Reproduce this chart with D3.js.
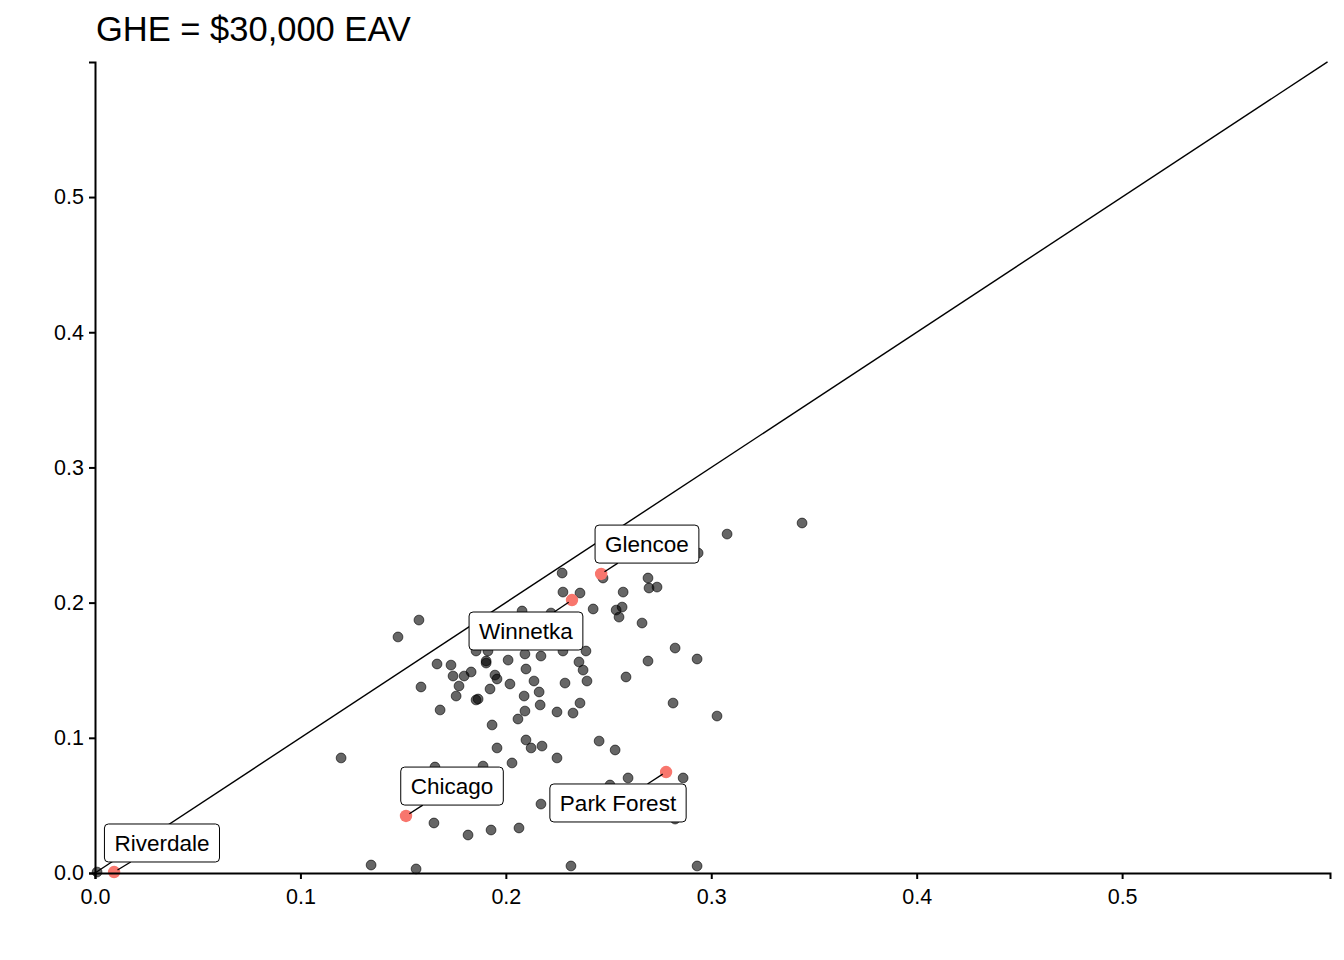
<!DOCTYPE html>
<html>
<head>
<meta charset="utf-8">
<script src="https://cdn.jsdelivr.net/npm/d3@7"></script>
<style>
  body { margin: 0; background: #fff; }
  text { font-family: "Liberation Sans", Arial, sans-serif; }
</style>
</head>
<body>
<div id="chart"></div>
<script>
// grey points (x, y)
const ptX = [0.3442, 0.3077, 0.2936, 0.2274, 0.2473, 0.2692, 0.2697, 0.2736, 0.2571, 0.2278,
  0.2361, 0.2425, 0.2537, 0.2566, 0.2551, 0.2663, 0.2079, 0.2220, 0.1577, 0.1475,
  0.2824, 0.2931, 0.2692, 0.2390, 0.2278, 0.2171, 0.2093, 0.2011, 0.1913, 0.1855,
  0.1904, 0.1904, 0.1665, 0.1733, 0.2356, 0.2376, 0.2098, 0.2395, 0.2288, 0.2585,
  0.1743, 0.1797, 0.1831, 0.1947, 0.1957, 0.2020, 0.2137, 0.2162, 0.2089, 0.1772,
  0.1587, 0.1923, 0.1758, 0.1855, 0.1865, 0.2167, 0.2361, 0.2814, 0.1680, 0.2093,
  0.2249, 0.2327, 0.3028, 0.2059, 0.1933, 0.2454, 0.2098, 0.2176, 0.2123, 0.1957,
  0.2532, 0.1198, 0.2249, 0.2030, 0.1655, 0.1889, 0.2595, 0.2863, 0.2507, 0.2171,
  0.2824, 0.1650, 0.1816, 0.1928, 0.2064, 0.1344, 0.1563, 0.2317, 0.2931, 0.0010];
const ptY = [0.2589, 0.2507, 0.2367, 0.2219, 0.2182, 0.2182, 0.2108, 0.2115, 0.2078, 0.2078,
  0.2071, 0.1953, 0.1945, 0.1967, 0.1893, 0.1849, 0.1938, 0.1923, 0.1871, 0.1746,
  0.1664, 0.1583, 0.1568, 0.1642, 0.1642, 0.1605, 0.1620, 0.1575, 0.1642, 0.1642,
  0.1568, 0.1553, 0.1546, 0.1538, 0.1561, 0.1501, 0.1509, 0.1420, 0.1405, 0.1450,
  0.1457, 0.1457, 0.1487, 0.1464, 0.1435, 0.1398, 0.1420, 0.1339, 0.1309, 0.1383,
  0.1376, 0.1361, 0.1309, 0.1280, 0.1287, 0.1243, 0.1257, 0.1257, 0.1206, 0.1198,
  0.1191, 0.1183, 0.1161, 0.1139, 0.1095, 0.0976, 0.0984, 0.0939, 0.0925, 0.0925,
  0.0910, 0.0851, 0.0851, 0.0814, 0.0784, 0.0791, 0.0703, 0.0703, 0.0651, 0.0510,
  0.0399, 0.0370, 0.0281, 0.0318, 0.0333, 0.0059, 0.0030, 0.0052, 0.0052, 0.0007];

// highlighted places
const hiNames = ["Glencoe", "Winnetka", "Park Forest", "Chicago", "Riverdale"];
const hiX = [0.2464, 0.2322, 0.2780, 0.1514, 0.0093];
const hiY = [0.2212, 0.2019, 0.0747, 0.0422, 0.0007];
// where the repelled labels ended up (data units)
const labX = [0.2687, 0.2098, 0.2546, 0.1738, 0.0326];
const labY = [0.2433, 0.1790, 0.0518, 0.0643, 0.0222];

const ticks = [0, 0.1, 0.2, 0.3, 0.4, 0.5];
const title = "GHE = $30,000 EAV";

const width = 1344, height = 960;

const svg = d3.select("#chart").append("svg")
  .attr("width", width)
  .attr("height", height);

const x = d3.scaleLinear().domain([0, 0.6012]).range([95, 1330]);
const y = d3.scaleLinear().domain([0, 0.5999]).range([873, 62]);

// y = x reference line
svg.append("line")
  .attr("x1", x(0)).attr("y1", y(0))
  .attr("x2", x(0.6)).attr("y2", y(0.6))
  .attr("stroke", "#000")
  .attr("stroke-width", 1.4);

// grey points
svg.append("g").selectAll("circle")
  .data(d3.range(ptX.length))
  .join("circle")
  .attr("cx", i => x(ptX[i]))
  .attr("cy", i => y(ptY[i]))
  .attr("r", 4.9)
  .attr("fill", "rgba(0,0,0,0.6)")
  .attr("stroke", "rgba(0,0,0,0.6)")
  .attr("stroke-width", 1);

// highlighted points
svg.append("g").selectAll("circle")
  .data(d3.range(hiX.length))
  .join("circle")
  .attr("cx", i => x(hiX[i]))
  .attr("cy", i => y(hiY[i]))
  .attr("r", 6.2)
  .attr("fill", "#F8766D");

// labels with leader segments
const labG = svg.append("g");
hiNames.forEach((name, i) => {
  const cx = x(labX[i]), cy = y(labY[i]);
  const t = labG.append("text")
    .attr("x", cx).attr("y", cy + 8)
    .attr("text-anchor", "middle")
    .attr("font-size", 22.5)
    .text(name);
  const tw = t.node().getComputedTextLength();
  const hw = tw / 2 + 10, hh = 19;

  // segment from point to box edge
  const px = x(hiX[i]), py = y(hiY[i]);
  const dx = cx - px, dy = cy - py;
  const s = Math.min(hw / Math.abs(dx || 1e-9), hh / Math.abs(dy || 1e-9));
  const ex = cx - dx * s, ey = cy - dy * s;
  const len = Math.hypot(ex - px, ey - py);
  if (len > 6) {
    const ux = (ex - px) / len, uy = (ey - py) / len;
    labG.insert("line", "text")
      .attr("x1", px + ux * 4).attr("y1", py + uy * 4)
      .attr("x2", ex).attr("y2", ey)
      .attr("stroke", "#000")
      .attr("stroke-width", 1.4);
  }

  labG.insert("rect", "text")
    .attr("x", cx - hw).attr("y", cy - hh)
    .attr("width", hw * 2).attr("height", hh * 2)
    .attr("rx", 4)
    .attr("fill", "#fff")
    .attr("stroke", "#000")
    .attr("stroke-width", 1);
  t.raise();
});

// axes
const xAxis = svg.append("g")
  .attr("transform", `translate(0,${y(0)})`)
  .call(d3.axisBottom(x).tickValues(ticks).tickFormat(d3.format(".1f")).tickSizeOuter(0).tickSize(6));
const yAxis = svg.append("g")
  .attr("transform", `translate(${x(0)},0)`)
  .call(d3.axisLeft(y).tickValues(ticks).tickFormat(d3.format(".1f")).tickSizeOuter(0).tickSize(6));

[xAxis, yAxis].forEach(a => {
  a.select(".domain").attr("stroke", "#000").attr("stroke-width", 2);
  a.selectAll(".tick line").attr("stroke", "#000").attr("stroke-width", 2);
  a.selectAll(".tick text")
    .attr("fill", "#000")
    .attr("font-size", 21.5)
    .attr("font-family", "'Liberation Sans', Arial, sans-serif");
});
xAxis.selectAll(".tick text").attr("dy", "1.0em");
yAxis.selectAll(".tick text").attr("dx", "-0.1em");

svg.append("text")
  .attr("x", 96).attr("y", 41)
  .attr("font-size", 34.5)
  .text(title);
</script>
</body>
</html>
